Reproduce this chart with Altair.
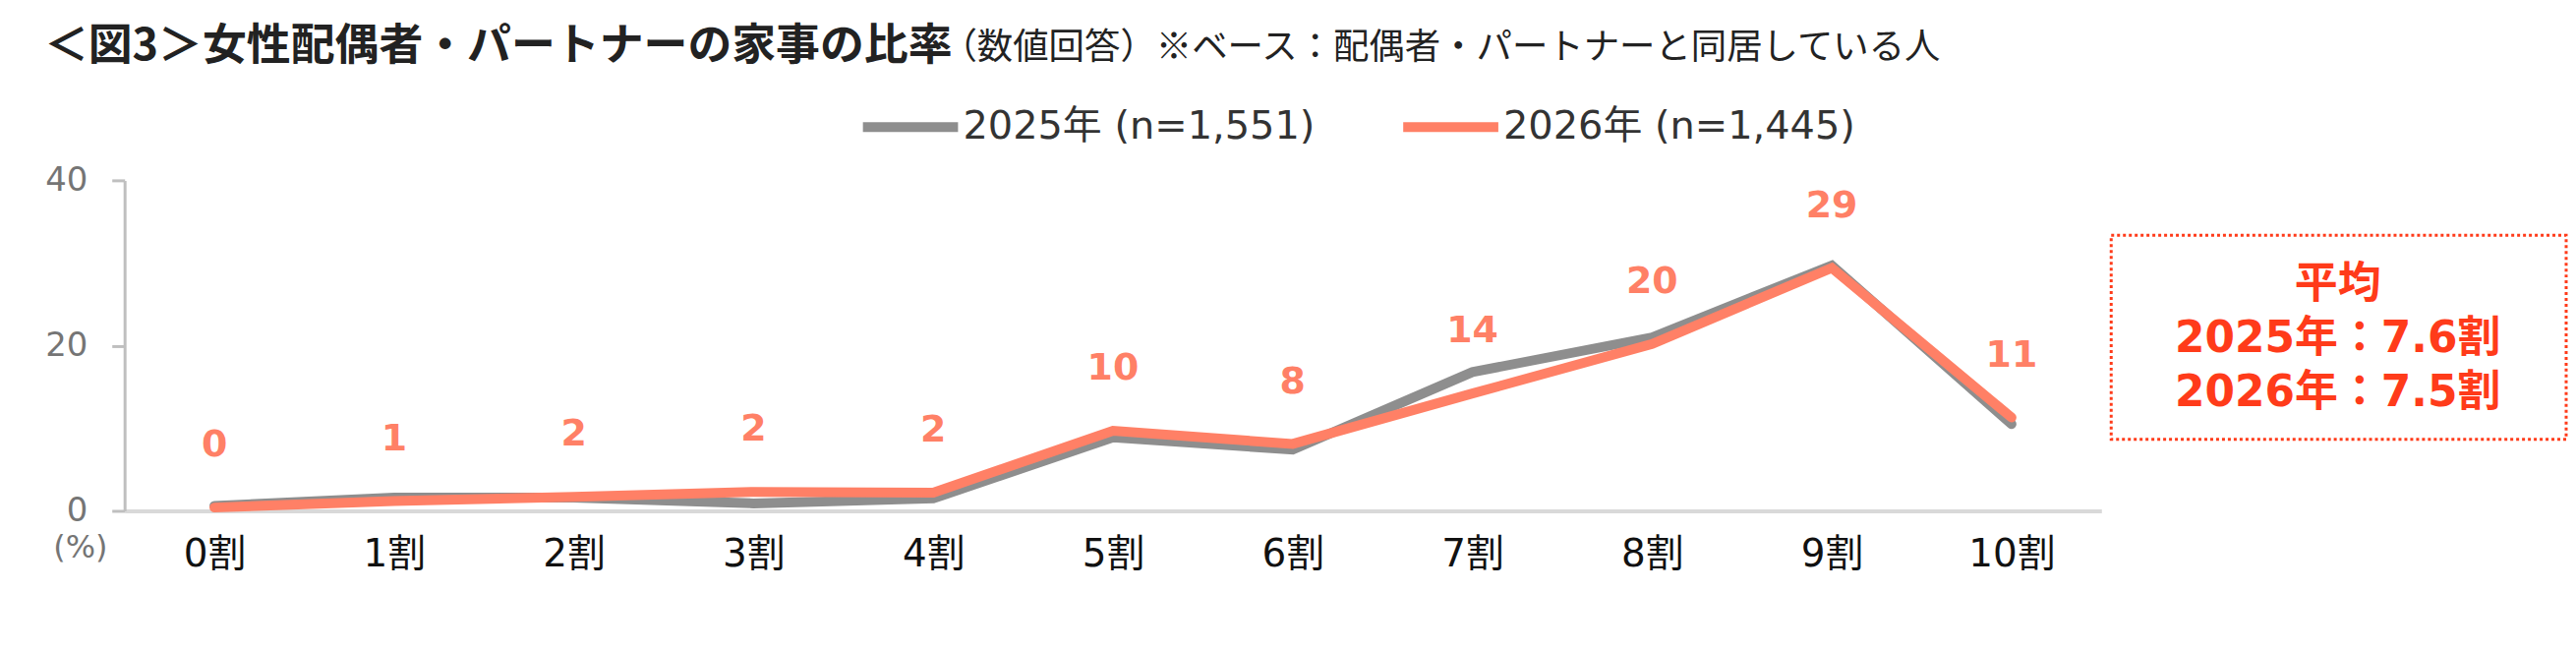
import altair as alt
import pandas as pd

# ---- data ----
categories = ["0割", "1割", "2割", "3割", "4割", "5割", "6割", "7割", "8割", "9割", "10割"]
series_names = ["2025年 (n=1,551)", "2026年 (n=1,445)"]
values_2025 = [0.6, 1.6, 1.6, 0.9, 1.5, 8.9, 7.4, 16.8, 21.0, 29.7, 10.5]
values_2026 = [0.4, 1.2, 1.7, 2.3, 2.2, 9.7, 8.1, 14.2, 20.2, 29.4, 11.3]
y_ticks = [0, 20, 40]
avg_years = ["2025年", "2026年"]
avg_values = [7.6, 7.5]
avg_heading = "平均"
title_main = "＜図3＞女性配偶者・パートナーの家事の比率"
title_sub = "（数値回答）※ベース：配偶者・パートナーと同居している人"
unit_label = "(%)"

colors = ["#8E8E8E", "#FF8066"]
NUM_FONT = "DejaVu Sans, Noto Sans CJK JP, sans-serif"
CJK_FONT = "Noto Sans CJK JP, sans-serif"
ACCENT = "#FF3B1A"

rows = []
for s, vals in zip(series_names, [values_2025, values_2026]):
    for c, v in zip(categories, vals):
        rows.append({"category": c, "series": s, "value": v})
df = pd.DataFrame(rows)

x_enc = alt.X(
    "category:N",
    sort=categories,
    scale=alt.Scale(type="point", padding=0.5),
    axis=alt.Axis(
        title=None, labelAngle=0, ticks=False, tickSize=0,
        domainColor="#D9D9D9", domainWidth=4,
        labelFont=NUM_FONT, labelFontSize=39, labelColor="#111111",
        labelPadding=44, labelBaseline="middle",
    ),
)
y_enc = alt.Y(
    "value:Q",
    scale=alt.Scale(domain=[0, 40], nice=False, zero=True),
    axis=alt.Axis(
        title=None, values=y_ticks, grid=False,
        domainColor="#BFBFBF", domainWidth=3,
        tickColor="#BFBFBF", tickWidth=3, tickSize=13,
        labelFont=NUM_FONT, labelFontSize=34, labelColor="#757575",
        labelPadding=25, labelFlush=False,
    ),
)

base = alt.Chart(df)

lines = base.mark_line(strokeWidth=10, strokeCap="round", strokeJoin="miter").encode(
    x=x_enc,
    y=y_enc,
    color=alt.Color(
        "series:N",
        title=None,
        scale=alt.Scale(domain=series_names, range=colors),
        legend=alt.Legend(
            orient="none", legendX=748, legendY=-108,
            direction="horizontal", columns=2,
            symbolType="stroke", symbolSize=9409, symbolStrokeWidth=10,
            labelFont=NUM_FONT, labelFontSize=40, labelColor="#333333",
            labelOffset=0, labelLimit=1000, columnPadding=69, padding=0,
        ),
    ),
)

labels = base.transform_filter(alt.datum.series == series_names[1]).mark_text(
    font=NUM_FONT, fontSize=38, fontWeight="bold", color=colors[1],
    dy=-63, baseline="middle", align="center",
).encode(x=x_enc, y=y_enc, text=alt.Text("value:Q", format=".0f"))

one = pd.DataFrame({"k": [0]})

title1 = alt.Chart(pd.DataFrame({"t": [title_main]})).mark_text(
    align="left", baseline="middle", font=CJK_FONT, fontSize=45,
    fontWeight="bold", color="#222222",
).encode(x=alt.value(-82), y=alt.value(-137), text="t:N")

title2 = alt.Chart(pd.DataFrame({"t": [title_sub]})).mark_text(
    align="left", baseline="middle", font=CJK_FONT, fontSize=36.5,
    color="#222222",
).encode(x=alt.value(833), y=alt.value(-135), text="t:N")

unit = alt.Chart(pd.DataFrame({"t": [unit_label]})).mark_text(
    align="center", baseline="middle", font=NUM_FONT, fontSize=32,
    color="#757575",
).encode(x=alt.value(-45), y=alt.value(375), text="t:N")

box = alt.Chart(one).mark_rect(
    fill="#FFFFFF", stroke=ACCENT, strokeWidth=3, strokeDash=[3, 3],
).encode(x=alt.value(2026), x2=alt.value(2490), y=alt.value(56), y2=alt.value(264))

avg_lines = [avg_heading] + [f"{yr}：{v:.1f}割" for yr, v in zip(avg_years, avg_values)]
avg_text = alt.Chart(one).mark_text(
    align="center", baseline="middle", font=NUM_FONT, fontSize=44,
    fontWeight="bold", color=ACCENT, lineHeight=55,
).encode(x=alt.value(2257), y=alt.value(107), text=alt.value(avg_lines))

chart = alt.layer(lines, labels, title1, title2, unit, box, avg_text).properties(
    width=2016,
    height=337,
    padding={"left": 119, "top": 175, "right": 476, "bottom": 128},
    autosize=alt.AutoSizeParams(type="none"),
    background="#FFFFFF",
).configure_view(strokeWidth=0)

chart.save("out.html", embed_options={"renderer": "svg", "actions": False})
